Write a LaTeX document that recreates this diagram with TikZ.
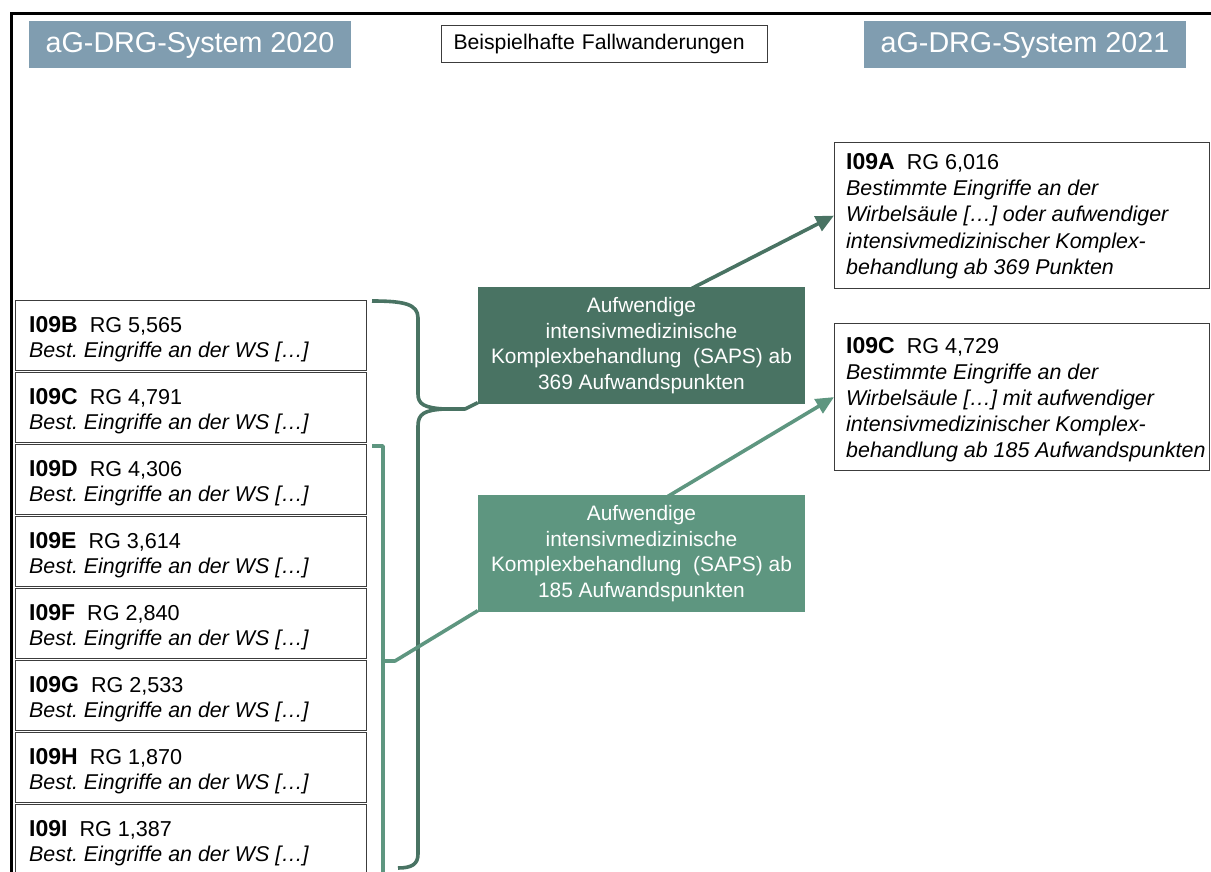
\documentclass[tikz,border=0pt]{standalone}
\usepackage{fontspec}
\setmainfont{Liberation Sans}
\usetikzlibrary{arrows.meta}
\definecolor{titlefill}{RGB}{128,157,176}
\definecolor{darkgreen}{RGB}{73,115,99}
\definecolor{lightgreen}{RGB}{94,150,128}
\definecolor{boxline}{RGB}{60,60,60}
\frenchspacing
\begin{document}
\begin{tikzpicture}[x=1pt,y=-1pt,
  titlebox/.style={fill=titlefill,text=white,minimum width=322,minimum height=47,
    inner sep=0pt,font=\fontsize{28.7}{34}\selectfont},
  headbox/.style={draw=boxline,line width=1pt,minimum width=326,minimum height=37,
    inner sep=0pt,font=\fontsize{21.2}{25}\selectfont},
  casebox/.style={draw=boxline,line width=1.2pt,anchor=north west,inner sep=0pt},
  caseline/.style={anchor=base west,inner sep=0pt,font=\fontsize{21.6}{25}\selectfont},
  descline/.style={caseline,font=\fontsize{21.4}{25}\selectfont\itshape},
  sapsbox/.style={minimum width=327,minimum height=117,inner sep=0pt,text=white,
    align=center,font=\fontsize{20.9}{25.7}\selectfont},
  darkline/.style={draw=darkgreen,line width=3.6pt,line join=round},
  lightline/.style={draw=lightgreen,line width=3.6pt,line join=round},
  darkarrow/.style={darkline,-{Triangle[length=18pt,width=16pt]}},
  lightarrow/.style={lightline,-{Triangle[length=18pt,width=16pt]}},
]
\useasboundingbox (0,0) rectangle (1211,872);
\clip (0,0) rectangle (1211,872);

% outer frame
\draw[line width=3pt] (11,880) -- (11,14) -- (1220,14);

% headings
\node[titlebox] (sys20) at (190,45) {aG-DRG-System 2020};
\node[titlebox] (sys21) at (1025,45) {aG-DRG-System 2021};
\node[headbox,anchor=west,text width=302,inner xsep=12pt,align=left] (head) at (441,44) {Beispielhafte Fallwanderungen};

% DRG heading line: code in bold, relative weight after it
\newcommand{\drghead}[2]{{\fontsize{23}{25}\selectfont\bfseries #1}\hspace{12pt}RG #2}

% DRGs 2020: box, code line and short description
\newcommand{\drgold}[4]{%
  \node[casebox,minimum width=351,minimum height=70] (#1) at (15,#2) {};
  \node[caseline] (#1-1) at ([xshift=14pt,yshift=-32pt]#1.north west) {\drghead{#3}{#4}};
  \node[descline] (#1-2) at ([xshift=14pt,yshift=-57pt]#1.north west) {Best. Eingriffe an der WS […]};
}
\drgold{b}{300}{I09B}{5,565}
\drgold{c}{372}{I09C}{4,791}
\drgold{d}{444}{I09D}{4,306}
\drgold{e}{516}{I09E}{3,614}
\drgold{f}{588}{I09F}{2,840}
\drgold{g}{660}{I09G}{2,533}
\drgold{h}{732}{I09H}{1,870}
\drgold{i}{804}{I09I}{1,387}

% DRGs 2021
\node[casebox,minimum width=375,minimum height=146] (na) at (834,142) {};
\node[caseline] (na-1) at ([xshift=12pt,yshift=-28pt]na.north west) {\drghead{I09A}{6,016}};
\node[descline] (na-2) at ([xshift=12pt,yshift=-54pt]na.north west) {Bestimmte Eingriffe an der};
\node[descline] (na-3) at ([xshift=12pt,yshift=-80pt]na.north west) {Wirbelsäule […] oder aufwendiger};
\node[descline] (na-4) at ([xshift=12pt,yshift=-106pt]na.north west) {intensivmedizinischer Komplex-};
\node[descline] (na-5) at ([xshift=12pt,yshift=-132pt]na.north west) {behandlung ab 369 Punkten};

\node[casebox,minimum width=375,minimum height=147] (nc) at (834,323) {};
\node[caseline] (nc-1) at ([xshift=12pt,yshift=-30pt]nc.north west) {\drghead{I09C}{4,729}};
\node[descline] (nc-2) at ([xshift=12pt,yshift=-56pt]nc.north west) {Bestimmte Eingriffe an der};
\node[descline] (nc-3) at ([xshift=12pt,yshift=-82pt]nc.north west) {Wirbelsäule […] mit aufwendiger};
\node[descline] (nc-4) at ([xshift=12pt,yshift=-108pt]nc.north west) {intensivmedizinischer Komplex-};
\node[descline] (nc-5) at ([xshift=12pt,yshift=-134pt]nc.north west) {behandlung ab 185 Aufwandspunkten};

% SAPS conditions
\node[sapsbox,fill=darkgreen] (s369) at (641.5,345.5) {Aufwendige\\ intensivmedizinische\\ Komplexbehandlung\ \ (SAPS) ab\\ 369 Aufwandspunkten};
\node[sapsbox,fill=lightgreen] (s185) at (641.5,553.5) {Aufwendige\\ intensivmedizinische\\ Komplexbehandlung\ \ (SAPS) ab\\ 185 Aufwandspunkten};

% curly brace I09B ... I09I
\coordinate (bracetop) at (372,301);
\coordinate (bracetip) at (445,409);
\coordinate (bracebot) at (398,868);
\draw[darkline] (bracetop) .. controls (404,301) and (418,304) .. (418,318) -- (418,394)
  .. controls (418,404) and (424,408) .. (bracetip) -- (465,409) -- ([yshift=1.5pt]s369.south west);
\draw[darkline] (bracetip) .. controls (424,410) and (418,414) .. (418,426) -- (418,854)
  .. controls (418,864) and (412,868) .. (bracebot);

% bracket I09D ... I09I
\coordinate (lbtop) at (372,446);
\coordinate (lbbot) at (383,880);
\coordinate (lbjoin) at (383,661);
\draw[lightline] (lbtop) -| (lbbot);
\draw[lightline] (lbjoin) -- (395,661) -- ([yshift=1.5pt]s185.south west);

% migrations
\draw[darkarrow] ([xshift=50.5pt,yshift=-1.5pt]s369.north) -- (na.west);
\draw[lightarrow] ([xshift=26.5pt,yshift=-1.5pt]s185.north) -- (nc.west);
\end{tikzpicture}
\end{document}
